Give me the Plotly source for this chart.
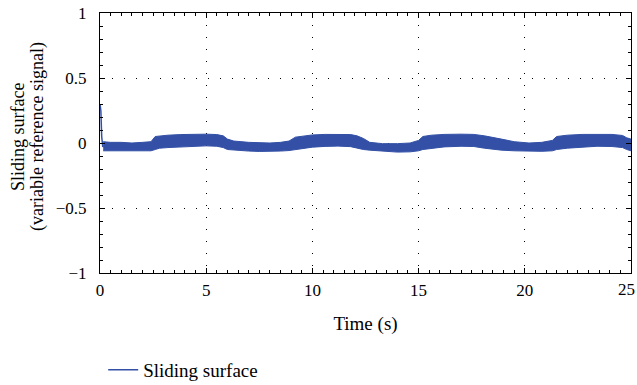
import plotly.graph_objects as go

# Initial transient of the sliding surface (s)
spike_t = [0.0, 0.04, 0.08, 0.13, 0.18]
spike_s = [0.30, 0.25, 0.05, -0.03, -0.02]

# Chattering band of the sliding surface: upper and lower envelopes
band_t = [0.15, 0.5, 1.0, 1.5, 2.0, 2.4, 2.6, 2.8, 3.2, 3.8, 4.5, 5.0, 5.5, 5.8,
          6.0, 6.3, 7.0, 7.5, 8.0, 8.5, 8.9, 9.2, 9.6, 10.0, 10.6, 11.2, 11.8,
          12.1, 12.4, 12.7, 13.3, 14.0, 14.6, 15.0, 15.2, 15.6, 16.2, 17.0,
          17.6, 18.1, 18.5, 18.9, 19.5, 20.2, 20.8, 21.3, 21.5, 22.0, 22.7,
          23.4, 24.1, 24.6, 24.8, 25.0]
band_upper = [0.010, 0.005, 0.005, 0.000, 0.005, 0.010, 0.050, 0.055, 0.060,
              0.065, 0.068, 0.068, 0.065, 0.055, 0.030, 0.015, 0.005, 0.000,
              0.000, 0.005, 0.015, 0.045, 0.055, 0.062, 0.066, 0.068, 0.065,
              0.055, 0.035, 0.005, -0.005, -0.005, 0.000, 0.020, 0.050, 0.060,
              0.066, 0.068, 0.066, 0.055, 0.045, 0.030, 0.010, 0.000, 0.005,
              0.020, 0.050, 0.060, 0.066, 0.068, 0.066, 0.058, 0.040, 0.030]
band_lower = [-0.060, -0.060, -0.062, -0.065, -0.062, -0.060, -0.050, -0.040,
              -0.035, -0.030, -0.025, -0.022, -0.025, -0.035, -0.050, -0.055,
              -0.062, -0.065, -0.065, -0.062, -0.058, -0.050, -0.040, -0.032,
              -0.026, -0.024, -0.028, -0.040, -0.050, -0.055, -0.062, -0.070,
              -0.068, -0.060, -0.050, -0.040, -0.030, -0.025, -0.027, -0.040,
              -0.050, -0.055, -0.060, -0.065, -0.064, -0.060, -0.050, -0.040,
              -0.030, -0.025, -0.027, -0.035, -0.050, -0.060]

x_ticks = [0, 5, 10, 15, 20, 25]
y_ticks = [-1, -0.5, 0, 0.5, 1]

BLUE = "#3350a6"
SERIF = "Liberation Serif"

fig = go.Figure()

fig.add_trace(go.Scatter(
    x=band_t, y=band_lower, mode="lines",
    line=dict(color=BLUE, width=1), showlegend=False, hoverinfo="skip"))
fig.add_trace(go.Scatter(
    x=band_t, y=band_upper, mode="lines", fill="tonexty", fillcolor=BLUE,
    line=dict(color=BLUE, width=1), showlegend=False, hoverinfo="skip"))
fig.add_trace(go.Scatter(
    x=spike_t, y=spike_s, mode="lines", name="Sliding surface",
    line=dict(color=BLUE, width=1.5)))

axis_common = dict(
    showline=True, linecolor="black", linewidth=1, mirror="allticks",
    ticks="inside", ticklen=5, tickcolor="black", tickwidth=1,
    showgrid=True, gridcolor="black", gridwidth=1, griddash="1px,11px",
    zeroline=False, automargin=False,
    tickfont=dict(family=SERIF, size=17, color="black"),
)

# The last x label sits at the right page edge, so it is right-aligned there
x_labels = [str(v) for v in x_ticks[:-1]] + [""]

fig.update_xaxes(
    range=[0, 25], tickvals=x_ticks, ticktext=x_labels,
    minor=dict(dtick=0.5, ticks="inside", ticklen=3, tickcolor="black", showgrid=False),
    title=dict(text="Time (s)", font=dict(family=SERIF, size=19, color="black"), standoff=17),
    ticklabelstandoff=2,
    **axis_common)
fig.update_yaxes(
    range=[-1, 1], tickvals=y_ticks, ticktext=["\u22121", "\u22120.5", "0", "0.5", "1"],
    minor=dict(dtick=0.1, ticks="inside", ticklen=3, tickcolor="black", showgrid=False),
    ticklabelstandoff=9,
    **axis_common)

fig.add_annotation(
    text=str(x_ticks[-1]), xref="x", yref="paper", x=x_ticks[-1], y=0,
    xanchor="right", yanchor="top", xshift=6, yshift=-5, showarrow=False,
    font=dict(family=SERIF, size=17, color="black"))

# Two-line vertical axis title
for text, shift in [("Sliding surface", -82), ("(variable reference signal)", -63)]:
    fig.add_annotation(
        text=text, xref="paper", yref="paper", x=0, y=0.5,
        xanchor="center", yanchor="middle", xshift=shift, yshift=6,
        textangle=-90, showarrow=False,
        font=dict(family=SERIF, size=18, color="black"))

fig.update_layout(
    width=637, height=385,
    margin=dict(l=100, r=6, t=13, b=112),
    paper_bgcolor="white", plot_bgcolor="white",
    font=dict(family=SERIF, color="black"),
    showlegend=True,
    legend=dict(x=0.006, xref="paper", y=0.039, yref="container",
                xanchor="left", yanchor="middle",
                font=dict(family=SERIF, size=19, color="black"),
                bgcolor="rgba(0,0,0,0)", borderwidth=0),
)

fig.write_html("out.html")
